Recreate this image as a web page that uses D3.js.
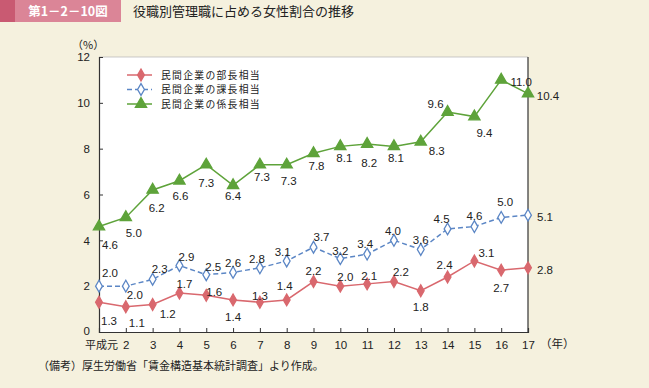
<!DOCTYPE html>
<html lang="ja">
<head>
<meta charset="UTF-8">
<title>役職別管理職に占める女性割合の推移</title>
<script src="https://cdn.jsdelivr.net/npm/d3@7"></script>
<style>
  body { margin: 0; background: #f5f1de; }
  svg { display: block; font-family: "Liberation Sans", "Noto Sans CJK JP", sans-serif; }
  .jp { font-family: "Noto Sans CJK JP", sans-serif; }
</style>
</head>
<body>
<script>
// data
var years = ["平成元", "2", "3", "4", "5", "6", "7", "8", "9", "10", "11", "12", "13", "14", "15", "16", "17"];
var buchou  = [1.3, 1.1, 1.2, 1.7, 1.6, 1.4, 1.3, 1.4, 2.2, 2.0, 2.1, 2.2, 1.8, 2.4, 3.1, 2.7, 2.8];
var kachou  = [2.0, 2.0, 2.3, 2.9, 2.5, 2.6, 2.8, 3.1, 3.7, 3.2, 3.4, 4.0, 3.6, 4.5, 4.6, 5.0, 5.1];
var kakari  = [4.6, 5.0, 6.2, 6.6, 7.3, 6.4, 7.3, 7.3, 7.8, 8.1, 8.2, 8.1, 8.3, 9.6, 9.4, 11.0, 10.4];
var seriesNames = ["民間企業の部長相当", "民間企業の課長相当", "民間企業の係長相当"];
var yTicks = [0, 2, 4, 6, 8, 10, 12];

// where each value label sits relative to its point
var buchouLbl = [[10,19],[11,16],[15,9],[5,-9],[8,-3],[0,17],[0,-6],[-2,-14],[0,-11],[5,-9],[2,-8],[7,-10],[0,16],[-3,-12],[12,-8],[0,18],[17,2]];
var kachouLbl = [[11,-13],[9,9],[7,-10],[7,-9],[7,-8],[0,-9],[-3,-9],[-4,-9],[8,-10],[0,-8],[-2,-10],[-1,-9],[0,-10],[-6,-10],[0,-11],[4,-15],[17,2]];
var kakariLbl = [[11,18],[8,16],[4,18],[1,15],[0,18],[0,11],[2,12],[2,16],[3,13],[4,12],[2,19],[2,12],[16,9],[-12,-8],[10,16],[20,2],[20,2]];

var W = 649, H = 388;
var svg = d3.select("body").append("svg").attr("width", W).attr("height", H);

svg.append("rect").attr("width", W).attr("height", H).attr("fill", "#f5f1de");

// header
svg.append("rect").attr("x", 0).attr("y", 0).attr("width", 15).attr("height", 22).attr("fill", "#c95a72");
svg.append("rect").attr("x", 15).attr("y", 0).attr("width", 106).attr("height", 22).attr("fill", "#db8597");
svg.append("text").attr("class", "jp").attr("x", 68).attr("y", 15.5).attr("text-anchor", "middle")
  .attr("fill", "#fff").attr("font-size", 12.5).attr("font-weight", "bold").text("第1－2－10図");
svg.append("text").attr("class", "jp").attr("x", 133).attr("y", 16).attr("fill", "#222")
  .attr("font-size", 13).text("役職別管理職に占める女性割合の推移");

var x = d3.scalePoint().domain(years).range([99, 528]);
var y = d3.scaleLinear().domain([0, 12]).range([332, 57]);

// plot area
svg.append("rect").attr("x", 99).attr("y", 57).attr("width", 429).attr("height", 275)
  .attr("fill", "#fff");
svg.append("line").attr("x1", 99).attr("x2", 528).attr("y1", 57).attr("y2", 57)
  .attr("stroke", "#bbb").attr("stroke-width", 0.8);
svg.append("line").attr("x1", 528).attr("x2", 528).attr("y1", 57).attr("y2", 332)
  .attr("stroke", "#333").attr("stroke-width", 1.2);

var yAxis = svg.append("g").attr("transform", "translate(99,0)")
  .call(d3.axisRight(y).tickValues(yTicks).tickSize(4).tickFormat(d3.format("d")));
yAxis.select(".domain").attr("stroke", "#333").attr("stroke-width", 1.2);
yAxis.selectAll(".tick line").attr("stroke", "#333");
yAxis.selectAll(".tick text").attr("x", -9).attr("text-anchor", "end").attr("font-size", 11.5).attr("fill", "#222")
  .attr("dy", function(d) { return d === 0 ? "0.2em" : "0.32em"; });

var xAxis = svg.append("g").attr("transform", "translate(0,332)")
  .call(d3.axisTop(x).tickSize(4));
xAxis.select(".domain").attr("stroke", "#333").attr("stroke-width", 1.2);
xAxis.selectAll(".tick line").attr("stroke", "#333");
xAxis.selectAll(".tick text").attr("y", 17).attr("dy", 0).attr("font-size", 11.5).attr("fill", "#222")
  .style("font-family", function(d) { return d === "平成元" ? "Noto Sans CJK JP" : "Liberation Sans"; })
  .attr("font-size", function(d) { return d === "平成元" ? 11 : 11.5; })
  .attr("dx", function(d) { return d === "平成元" ? 2 : 0; });
svg.append("text").attr("class", "jp").attr("x", 540).attr("y", 348).attr("font-size", 11.5).attr("fill", "#222").text("（年）");
svg.append("text").attr("class", "jp").attr("x", 72).attr("y", 49).attr("font-size", 11).attr("fill", "#222").text("（%）");

var series = [
  { vals: buchou, lbl: buchouLbl, color: "#d9686e", fill: "#d9686e", dash: null, shape: d3.symbolDiamond, size: 40 },
  { vals: kachou, lbl: kachouLbl, color: "#5b86c5", fill: "#fff", dash: "5,3", shape: d3.symbolDiamond, size: 40 },
  { vals: kakari, lbl: kakariLbl, color: "#5ea33a", fill: "#5ea33a", dash: null, shape: d3.symbolTriangle, size: 55 }
];

var line = d3.line().x(function(d, i) { return x(years[i]); }).y(function(d) { return y(d); });

series.forEach(function(s) {
  svg.append("path").datum(s.vals).attr("d", line).attr("fill", "none")
    .attr("stroke", s.color).attr("stroke-width", 1.5).attr("stroke-dasharray", s.dash);
  svg.selectAll(null).data(s.vals).enter().append("path")
    .attr("d", d3.symbol().type(s.shape).size(s.size))
    .attr("transform", function(d, i) { return "translate(" + x(years[i]) + "," + y(d) + ")"; })
    .attr("fill", s.fill).attr("stroke", s.color).attr("stroke-width", 1.3);
  svg.selectAll(null).data(s.vals).enter().append("text")
    .attr("x", function(d, i) { return x(years[i]) + s.lbl[i][0]; })
    .attr("y", function(d, i) { return y(d) + s.lbl[i][1]; })
    .attr("dy", "0.35em").attr("text-anchor", "middle").attr("font-size", 11.5).attr("fill", "#222")
    .text(function(d) { return d.toFixed(1); });
});

// legend
series.forEach(function(s, i) {
  var ly = 75 + i * 14.5;
  svg.append("line").attr("x1", 127).attr("x2", 152).attr("y1", ly).attr("y2", ly)
    .attr("stroke", s.color).attr("stroke-width", 1.5).attr("stroke-dasharray", s.dash);
  svg.append("path").attr("d", d3.symbol().type(s.shape).size(s.size)())
    .attr("transform", "translate(141," + ly + ")")
    .attr("fill", s.fill).attr("stroke", s.color).attr("stroke-width", 1.3);
  svg.append("text").attr("class", "jp").attr("x", 161).attr("y", ly).attr("dy", "0.36em")
    .attr("font-size", 9.8).attr("letter-spacing", 1.3).attr("fill", "#222").text(seriesNames[i]);
});

svg.append("text").attr("class", "jp").attr("x", 38).attr("y", 370).attr("font-size", 11).attr("fill", "#222")
  .text("（備考）厚生労働省「賃金構造基本統計調査」より作成。");
</script>
</body>
</html>
